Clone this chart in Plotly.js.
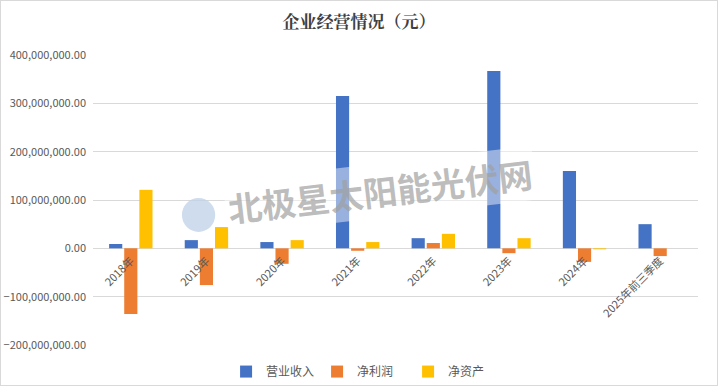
<!DOCTYPE html>
<html>
<head>
<meta charset="utf-8">
<script src="https://cdn.plot.ly/plotly-3.0.1.min.js"></script>
<style>
html,body{margin:0;padding:0;background:#fff;}
#chart{width:716px;height:384px;border:1px solid #d9d9d9;}
</style>
</head>
<body>
<div id="chart"></div>
<script>
const categories = ["2018年","2019年","2020年","2021年","2022年","2023年","2024年","2025年前三季度"];
const revenue   = [9000000, 17000000, 13000000, 315000000, 21000000, 367000000, 160000000, 50000000];
const netProfit = [-136000000, -76000000, -32000000, -5000000, 11000000, -10000000, -28000000, -16000000];
const netAssets = [121000000, 44000000, 17000000, 13000000, 30000000, 21000000, -2000000, null];
const seriesNames = ["营业收入","净利润","净资产"];
const yTicks = [-200000000,-100000000,0,100000000,200000000,300000000,400000000];

const font = "'Noto Sans CJK SC', 'Microsoft YaHei', sans-serif";
const colors = ["#4472c4","#ed7d31","#ffc000"];

const traces = [revenue, netProfit, netAssets].map((vals,i)=>({
  type:'bar', x:categories, y:vals, name:seriesNames[i],
  marker:{color:colors[i]}, hoverinfo:'x+y'
}));

const layout = {
  width:716, height:384,
  margin:{l:92, r:19, t:54, b:40, autoexpand:false},
  paper_bgcolor:'#fff', plot_bgcolor:'#fff',
  font:{family:font, color:'#595959', size:11},
  title:{text:'企业经营情况（元）', x:0.5, xanchor:'center', y:0.945, yanchor:'middle',
         font:{family:"'Noto Serif CJK SC','Noto Sans CJK SC',serif", size:17, color:'#404040', weight:'bold'}},
  barmode:'group', bargap:0.4, bargroupgap:0.13,
  xaxis:{anchor:'free', position:1/3, automargin:false, showgrid:false, showline:false, zeroline:false,
         tickangle:-45, ticks:'', ticklabelstandoff:3, tickfont:{size:11, color:'#595959'}, fixedrange:true},
  yaxis:{range:[-200000000,400000000], tickvals:yTicks, tickformat:',.2f', automargin:false,
         gridcolor:'#d9d9d9', gridwidth:1, zeroline:true, zerolinecolor:'#d9d9d9', zerolinewidth:1,
         showline:false, ticks:'', ticklabelstandoff:6, tickfont:{size:11,color:'#595959'}},
  legend:{orientation:'h', xref:'container', yref:'container', x:0.505, xanchor:'center', y:0.035, yanchor:'middle',
          font:{size:12,color:'#595959'}, itemwidth:30, traceorder:'normal', entrywidth:46},
  shapes:[{type:'circle', xref:'paper', yref:'paper', x0:0.147, x1:0.202, y0:0.39, y1:0.507,
           fillcolor:'rgba(190,208,232,0.75)', line:{width:0}, layer:'above'}],
  annotations:[{
    text:'北极星太阳能光伏网', xref:'paper', yref:'paper', x:0.475, y:0.534,
    showarrow:false, textangle:-6.6, bgcolor:'rgba(255,255,255,0.45)', borderpad:2,
    font:{family:font, size:34, color:'rgba(160,160,160,0.7)', weight:'bold'}
  }]
};

Plotly.newPlot('chart', traces, layout, {displayModeBar:false, staticPlot:true});
</script>
</body>
</html>
